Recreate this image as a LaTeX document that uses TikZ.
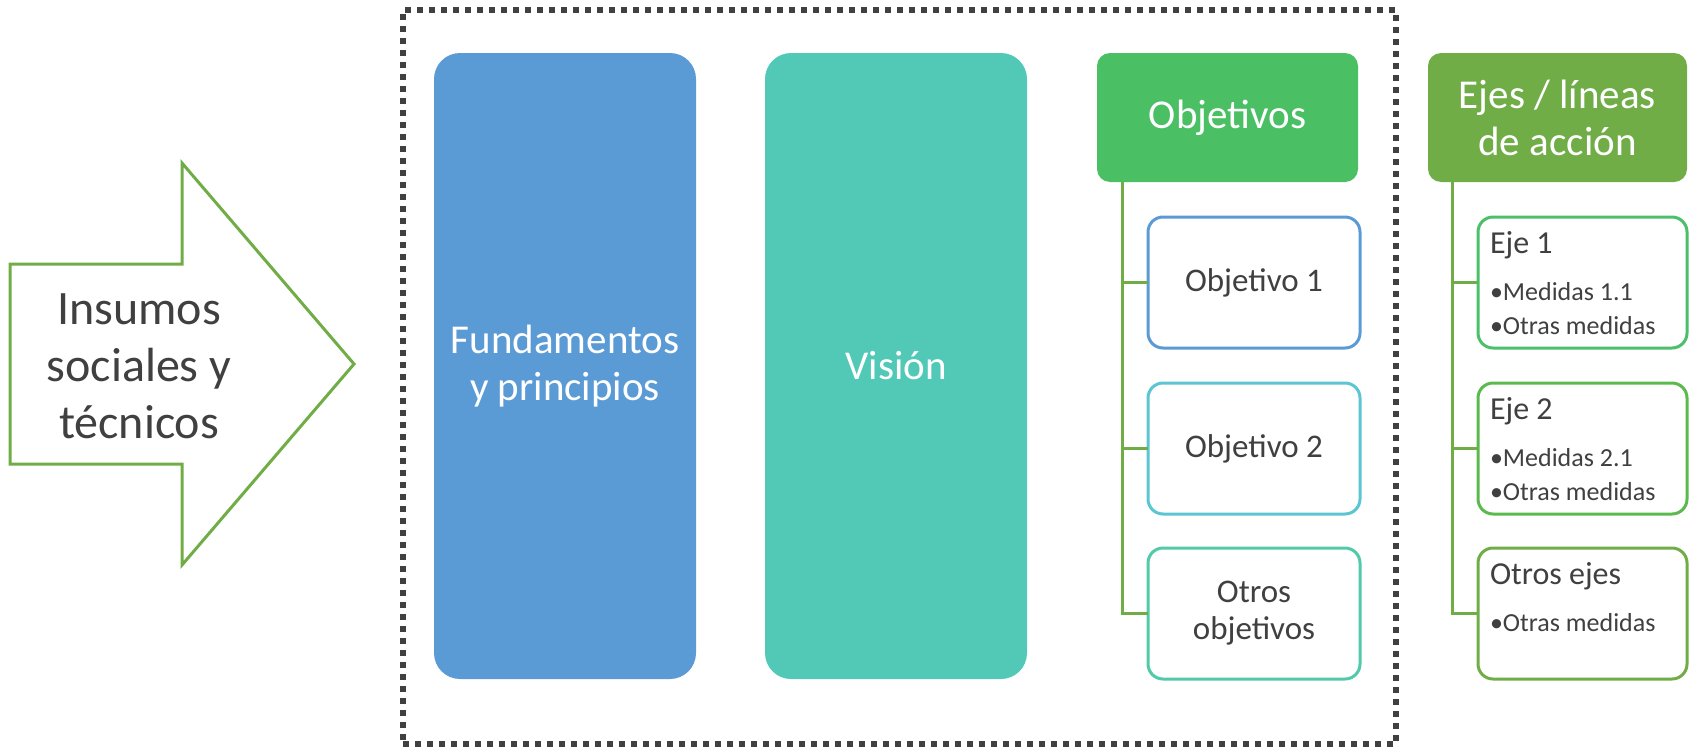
\documentclass[tikz,border=0pt]{standalone}
\usepackage{fontspec}
\setmainfont{Carlito}
\usetikzlibrary{positioning}
\definecolor{fundblue}{HTML}{5B9BD5}
\definecolor{visteal}{HTML}{52C9B7}
\definecolor{objgreen}{HTML}{4ABF64}
\definecolor{ejegreen}{HTML}{70AD47}
\definecolor{objcyan}{HTML}{5BC5D3}
\definecolor{objteal}{HTML}{52CAA9}
\definecolor{ejeleaf}{HTML}{4CBF6A}
\definecolor{ejemid}{HTML}{5BBA4E}
\definecolor{textgray}{HTML}{404040}

\begin{document}
\begin{tikzpicture}[x=1pt, y=-1pt,
            every node/.style={inner sep=0pt, outer sep=0pt},
            bigbox/.style={fill=#1, rounded corners=26pt, minimum width=262pt, minimum height=626pt,
                           text=white, align=center, font=\fontsize{41}{47}\selectfont},
            headbox/.style={fill=#1, rounded corners=13pt, minimum width=261pt, minimum height=129pt,
                            text=white, align=center, font=\fontsize{41}{47}\selectfont},
            objbox/.style={draw=#1, line width=3pt, fill=white, rounded corners=15pt, minimum width=212pt,
                           minimum height=131pt, text=textgray, align=center, font=\fontsize{33}{37}\selectfont},
            ejebox/.style={draw=#1, line width=3pt, fill=white, rounded corners=15pt, minimum width=209pt,
                           minimum height=131pt},
            ejetitle/.style={anchor=base west, text=textgray, font=\fontsize{32}{38}\selectfont},
            ejeitem/.style={anchor=base west, text=textgray, font=\fontsize{26}{30}\selectfont},
            branch/.style={draw=ejegreen, line width=3pt}]
        \useasboundingbox (0,0) rectangle (1689,747);

        \draw[ejegreen, line width=3pt] (10,264) -- (182,264) -- (182,163) -- (354,364)
              -- (182,565) -- (182,464) -- (10,464) -- cycle;
        \node[text=textgray, align=center, font=\fontsize{48}{57}\selectfont] (insumos) at (139,366)
              {Insumos\\sociales y\\técnicos};

        \node[draw=textgray, line width=6pt, dash pattern=on 6pt off 6pt, minimum width=993pt,
              minimum height=734pt] (marco) at (899.5,377) {};

        \node[bigbox=fundblue] (fund) at (565,366) {Fundamentos\\y principios};
        \node[bigbox=visteal, right=69pt of fund] (vision) {Visión};

        \node[headbox=objgreen] (objhead) at (1227.5,117.5) {Objetivos};
        \node[objbox=fundblue] (obj1) at (1254,282.5) {Objetivo 1};
        \node[objbox=objcyan, below=35pt of obj1] (obj2) {Objetivo 2};
        \node[objbox=objteal, below=34pt of obj2] (obj3) {Otros\\objetivos};

        \node[headbox=ejegreen, minimum width=259pt] (ejehead) at (1557.5,117.5) {Ejes / líneas\\de acción};
        \node[ejebox=ejeleaf] (eje1) at (1582.5,282.5) {};
        \node[ejebox=ejemid, below=35pt of eje1] (eje2) {};
        \node[ejebox=ejegreen, below=34pt of eje2] (eje3) {};

        \foreach \i in {1,2,3} {
            \draw[branch] ([xshift=25pt]objhead.south west) |- (obj\i.west);
            \draw[branch] ([xshift=24pt]ejehead.south west) |- (eje\i.west);
        }

        \node[ejetitle] (eje1t) at ([shift={(12,36)}]eje1.north west) {Eje 1};
        \node[ejeitem] (eje1a) at ([shift={(12,83)}]eje1.north west) {•Medidas 1.1};
        \node[ejeitem] (eje1b) at ([shift={(12,117)}]eje1.north west) {•Otras medidas};
        \node[ejetitle] (eje2t) at ([shift={(12,36)}]eje2.north west) {Eje 2};
        \node[ejeitem] (eje2a) at ([shift={(12,83)}]eje2.north west) {•Medidas 2.1};
        \node[ejeitem] (eje2b) at ([shift={(12,117)}]eje2.north west) {•Otras medidas};
        \node[ejetitle] (eje3t) at ([shift={(12,36)}]eje3.north west) {Otros ejes};
        \node[ejeitem] (eje3a) at ([shift={(12,83)}]eje3.north west) {•Otras medidas};
\end{tikzpicture}
\end{document}
